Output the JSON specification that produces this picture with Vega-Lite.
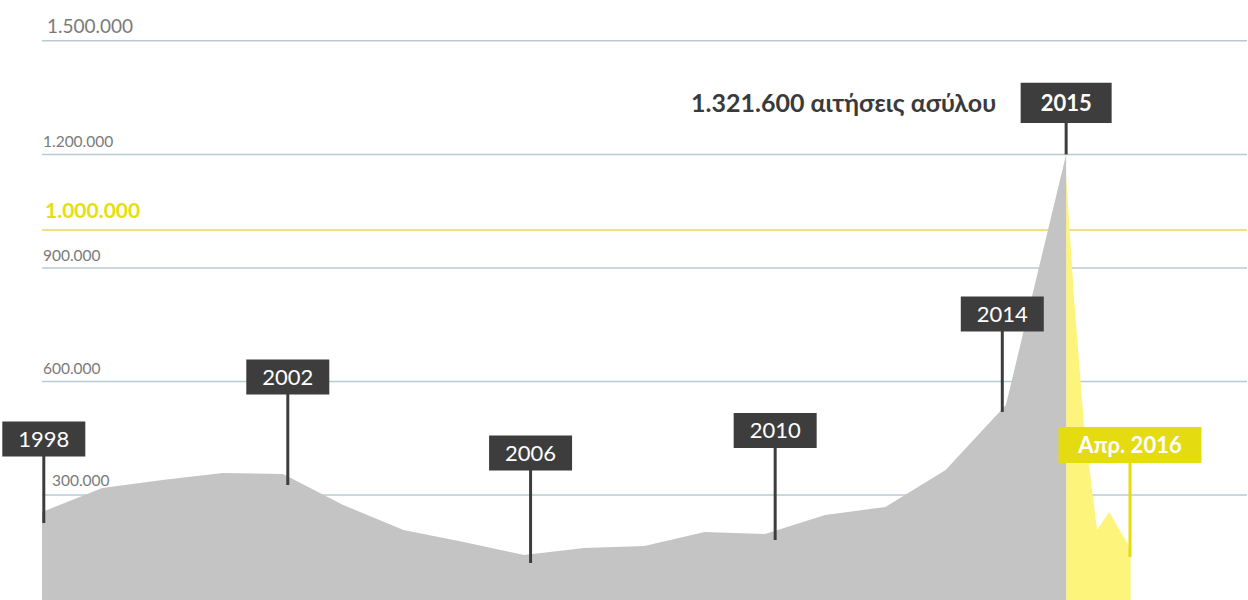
{
  "$schema": "https://vega.github.io/schema/vega-lite/v6.json",
  "width": 1248,
  "height": 600,
  "padding": 0,
  "autosize": {"type": "fit", "contains": "padding"},
  "background": "#ffffff",
  "config": {"view": {"stroke": null}, "font": "Lato"},
  "datasets": {
    "annual": [
      {"t": 1998, "v": 255000},
      {"t": 1999, "v": 318500},
      {"t": 2000, "v": 339600},
      {"t": 2001, "v": 358100},
      {"t": 2002, "v": 355500},
      {"t": 2003, "v": 273600},
      {"t": 2004, "v": 207500},
      {"t": 2005, "v": 175800},
      {"t": 2006, "v": 141400},
      {"t": 2007, "v": 159900},
      {"t": 2008, "v": 165200},
      {"t": 2009, "v": 202200},
      {"t": 2010, "v": 196900},
      {"t": 2011, "v": 247100},
      {"t": 2012, "v": 268300},
      {"t": 2013, "v": 366100},
      {"t": 2014, "v": 537900},
      {"t": 2015, "v": 1200000}
    ],
    "recent": [
      {"t": 2015.0, "v": 1145800},
      {"t": 2015.133, "v": 815400},
      {"t": 2015.299, "v": 479700},
      {"t": 2015.514, "v": 207500},
      {"t": 2015.713, "v": 255100},
      {"t": 2016.07, "v": 158000}
    ],
    "grid": [
      {"value": 300000, "label": "300.000", "kind": "low"},
      {"value": 600000, "label": "600.000", "kind": "plain"},
      {"value": 900000, "label": "900.000", "kind": "plain"},
      {"value": 1200000, "label": "1.200.000", "kind": "plain"},
      {"value": 1500000, "label": "1.500.000", "kind": "top"},
      {"value": 1000000, "label": "1.000.000", "kind": "million"}
    ],
    "pins": [
      {"label": "1998", "t": 1998.03, "box": 448000, "end": 226000, "kind": "year"},
      {"label": "2002", "t": 2002.08, "box": 611900, "end": 326400, "kind": "year"},
      {"label": "2006", "t": 2006.11, "box": 411000, "end": 120300, "kind": "year"},
      {"label": "2010", "t": 2010.17, "box": 470500, "end": 181100, "kind": "year"},
      {"label": "2014", "t": 2013.94, "box": 778400, "end": 519400, "kind": "year"},
      {"label": "2015", "t": 2015.0, "box": 1336100, "end": 1200000, "kind": "peak"},
      {"label": "Απρ. 2016", "t": 2016.06, "box": 432200, "end": 136100, "kind": "latest"}
    ],
    "note": [
      {"label": "1.321.600 αιτήσεις ασύλου", "t": 2015.0, "v": 1336100}
    ]
  },
  "encoding": {
    "x": {"type": "quantitative", "axis": null, "scale": {"domain": [1997.303, 2018.002], "nice": false, "zero": false}},
    "y": {"type": "quantitative", "axis": null, "scale": {"domain": [22500, 1608000], "nice": false, "zero": false}}
  },
  "layer": [
    {
      "data": {"name": "grid"},
      "transform": [{"filter": "datum.kind !== 'million'"}],
      "mark": {"type": "rule", "color": "#b9cad2", "strokeWidth": 1.5},
      "encoding": {"x": {"datum": 1998}, "x2": {"datum": 2018.002}, "y": {"field": "value"}}
    },
    {
      "data": {"name": "grid"},
      "transform": [{"filter": "datum.kind === 'million'"}],
      "mark": {"type": "rule", "color": "#f1d35c", "strokeWidth": 1.5},
      "encoding": {"x": {"datum": 1998}, "x2": {"datum": 2018.002}, "y": {"field": "value"}}
    },
    {
      "data": {"name": "recent"},
      "mark": {"type": "area", "color": "#fdf47c", "opacity": 1, "interpolate": "linear", "clip": true},
      "encoding": {"x": {"field": "t"}, "y": {"field": "v"}, "y2": {"datum": 0}}
    },
    {
      "data": {"name": "annual"},
      "mark": {"type": "area", "color": "#c4c4c4", "opacity": 1, "interpolate": "linear", "clip": true},
      "encoding": {"x": {"field": "t"}, "y": {"field": "v"}, "y2": {"datum": 0}}
    },
    {
      "data": {"name": "grid"},
      "transform": [{"filter": "datum.kind === 'plain'"}],
      "mark": {"type": "text", "align": "left", "baseline": "alphabetic", "dx": 1, "dy": -7, "fontSize": 15.5, "color": "#7a7a7a"},
      "encoding": {"x": {"datum": 1998}, "y": {"field": "value"}, "text": {"field": "label"}}
    },
    {
      "data": {"name": "grid"},
      "transform": [{"filter": "datum.kind === 'low'"}],
      "mark": {"type": "text", "align": "left", "baseline": "alphabetic", "dx": 10, "dy": -9, "fontSize": 15.5, "color": "#7a7a7a"},
      "encoding": {"x": {"datum": 1998}, "y": {"field": "value"}, "text": {"field": "label"}}
    },
    {
      "data": {"name": "grid"},
      "transform": [{"filter": "datum.kind === 'top'"}],
      "mark": {"type": "text", "align": "left", "baseline": "alphabetic", "dx": 5, "dy": -8, "fontSize": 19, "color": "#7a7a7a"},
      "encoding": {"x": {"datum": 1998}, "y": {"field": "value"}, "text": {"field": "label"}}
    },
    {
      "data": {"name": "grid"},
      "transform": [{"filter": "datum.kind === 'million'"}],
      "mark": {"type": "text", "align": "left", "baseline": "alphabetic", "dx": 3, "dy": -12, "fontSize": 21, "fontWeight": "bold", "color": "#e4e00c"},
      "encoding": {"x": {"datum": 1998}, "y": {"field": "value"}, "text": {"field": "label"}}
    },
    {
      "data": {"name": "pins"},
      "transform": [{"filter": "datum.kind !== 'latest'"}],
      "mark": {"type": "rule", "color": "#3d3d3d", "strokeWidth": 3},
      "encoding": {"x": {"field": "t"}, "y": {"field": "box"}, "y2": {"field": "end"}}
    },
    {
      "data": {"name": "pins"},
      "transform": [{"filter": "datum.kind === 'latest'"}],
      "mark": {"type": "rule", "color": "#e4dc10", "strokeWidth": 3},
      "encoding": {"x": {"field": "t"}, "y": {"field": "box"}, "y2": {"field": "end"}}
    },
    {
      "data": {"name": "pins"},
      "transform": [{"filter": "datum.kind === 'year'"}],
      "mark": {"type": "point", "shape": "M-1,-0.42H1V0.42H-1Z", "size": 6889, "filled": true, "color": "#3d3d3d", "opacity": 1},
      "encoding": {"x": {"field": "t"}, "y": {"field": "box"}}
    },
    {
      "data": {"name": "pins"},
      "transform": [{"filter": "datum.kind === 'peak'"}],
      "mark": {"type": "point", "shape": "M-1,-0.44H1V0.44H-1Z", "size": 8281, "filled": true, "color": "#3d3d3d", "opacity": 1},
      "encoding": {"x": {"field": "t"}, "y": {"field": "box"}}
    },
    {
      "data": {"name": "pins"},
      "transform": [{"filter": "datum.kind === 'latest'"}],
      "mark": {"type": "point", "shape": "M-1,-0.252H1V0.252H-1Z", "size": 20449, "filled": true, "color": "#e4dc10", "opacity": 1},
      "encoding": {"x": {"field": "t"}, "y": {"field": "box"}}
    },
    {
      "data": {"name": "pins"},
      "transform": [{"filter": "datum.kind === 'year'"}],
      "mark": {"type": "text", "align": "center", "baseline": "middle", "dy": 1, "fontSize": 22, "color": "#ffffff"},
      "encoding": {"x": {"field": "t"}, "y": {"field": "box"}, "text": {"field": "label"}}
    },
    {
      "data": {"name": "pins"},
      "transform": [{"filter": "datum.kind !== 'year'"}],
      "mark": {"type": "text", "align": "center", "baseline": "middle", "dy": 1, "fontSize": 22, "fontWeight": "bold", "color": "#ffffff"},
      "encoding": {"x": {"field": "t"}, "y": {"field": "box"}, "text": {"field": "label"}}
    },
    {
      "data": {"name": "note"},
      "mark": {"type": "text", "align": "right", "baseline": "middle", "dx": -70, "dy": 1, "fontSize": 25, "fontWeight": "bold", "color": "#3a3a3a"},
      "encoding": {"x": {"field": "t"}, "y": {"field": "v"}, "text": {"field": "label"}}
    }
  ]
}
